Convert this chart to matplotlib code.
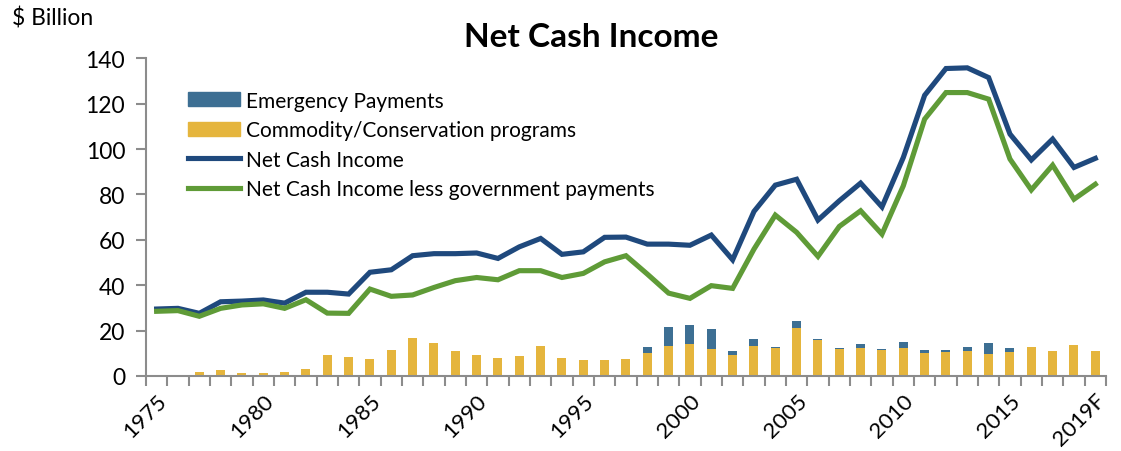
import numpy as np
import matplotlib.pyplot as plt
from matplotlib.patches import Patch
from matplotlib.lines import Line2D

plt.rcParams['font.family'] = ['Lato', 'DejaVu Sans']

years = list(range(1975, 2020))
tick_labels = ['1975', '1980', '1985', '1990', '1995', '2000', '2005', '2010', '2015', '2019F']

# $ billion
commodity = [0.6, 0.6, 1.6, 2.8, 1.2, 1.2, 1.8, 3.2, 9.1, 8.2,
             7.5, 11.6, 16.6, 14.4, 10.8, 9.1, 7.9, 8.9, 13.2, 7.8,
             6.9, 7.2, 7.3, 10.3, 13.4, 14.1, 12.0, 9.4, 13.2, 12.2,
             21.0, 15.7, 11.7, 12.2, 11.4, 12.2, 10.1, 10.6, 10.9, 9.5,
             10.6, 12.8, 11.2, 13.7, 11.2]
emergency = [0, 0, 0, 0, 0, 0, 0, 0, 0, 0,
             0, 0, 0, 0, 0, 0, 0, 0, 0, 0,
             0, 0, 0, 2.6, 8.0, 8.5, 8.5, 1.6, 3.2, 0.4,
             3.2, 0.4, 0.5, 2.0, 0.6, 2.6, 1.5, 1.0, 2.0, 4.9,
             1.7, 0, 0, 0, 0]
net_cash = [29.5, 29.8, 27.6, 32.7, 33.0, 33.5, 32.1, 36.9, 36.9, 36.1,
            45.7, 46.8, 53.0, 53.9, 53.9, 54.2, 51.8, 56.9, 60.6, 53.6,
            54.7, 61.1, 61.2, 58.1, 58.1, 57.6, 62.1, 51.2, 72.5, 84.1,
            86.7, 68.7, 77.2, 85.0, 74.5, 96.3, 123.7, 135.5, 135.8, 131.5,
            106.6, 95.2, 104.4, 91.9, 95.9]
net_cash_less_gov = [28.5, 28.8, 26.3, 29.8, 31.3, 31.8, 29.8, 33.6, 27.7, 27.6,
                     38.3, 35.1, 35.7, 39.0, 42.0, 43.4, 42.4, 46.4, 46.4, 43.4,
                     45.2, 50.3, 53.0, 44.9, 36.5, 34.2, 39.8, 38.6, 55.9, 70.9,
                     63.3, 52.7, 65.9, 72.8, 62.5, 83.8, 113.2, 124.9, 124.9, 122.0,
                     95.6, 82.0, 92.9, 77.9, 84.5]

c_emerg = '#3d6f93'
c_comm = '#e5b53d'
c_nci = '#1f497d'
c_less = '#5f9b37'
c_axis = '#8c8c8c'

x = np.arange(len(years))

fig = plt.figure(figsize=(11.21, 4.52), dpi=100)
ax = fig.add_axes([0.1302, 0.166, 0.8564, 0.7028])

ax.bar(x, commodity, width=0.42, color=c_comm, zorder=2)
ax.bar(x, emergency, width=0.42, bottom=commodity, color=c_emerg, zorder=2)
ax.plot(x, net_cash, color=c_nci, lw=3.7, solid_joinstyle='miter', zorder=3)
ax.plot(x, net_cash_less_gov, color=c_less, lw=3.7, solid_joinstyle='miter', zorder=4)

ax.set_xlim(-0.5, len(years) - 0.5)
ax.set_ylim(0, 140)
ax.set_yticks(range(0, 141, 20))

# category ticks sit between the bars, labels every five years
ax.set_xticks(np.arange(-0.5, len(years)), minor=False)
ax.set_xticklabels([])
lab_pos = [years.index(int(t[:4])) for t in tick_labels]
ax.set_xticks(lab_pos, minor=True)
ax.set_xticklabels(tick_labels, minor=True, rotation=45, ha='right',
                   rotation_mode='anchor', fontsize=16)
ax.tick_params(axis='x', which='minor', length=0, pad=10)
ax.tick_params(axis='x', which='major', length=7, width=1.5, color=c_axis, direction='out')
ax.tick_params(axis='y', length=7, width=1.5, color=c_axis, labelsize=16.5, pad=8)

for s in ['top', 'right']:
    ax.spines[s].set_visible(False)
for s in ['left', 'bottom']:
    ax.spines[s].set_color(c_axis)
    ax.spines[s].set_linewidth(1.5)

fig.text(0.527, 0.918, 'Net Cash Income', ha='center', va='center',
         fontsize=24, fontweight='bold')
fig.text(0.011, 0.96, '$ Billion', ha='left', va='center', fontsize=16.5)

handles = [Patch(color=c_emerg), Patch(color=c_comm),
           Line2D([], [], color=c_nci, lw=3.7), Line2D([], [], color=c_less, lw=3.7)]
labels = ['Emergency Payments', 'Commodity/Conservation programs',
          'Net Cash Income', 'Net Cash Income less government payments']
fig.legend(handles, labels, loc='upper left', bbox_to_anchor=(0.168, 0.797),
           frameon=False, fontsize=15, handlelength=2.5, handleheight=0.65,
           handletextpad=0.25, labelspacing=0.45, borderpad=0, borderaxespad=0)

fig.savefig('out.png', dpi=100)
